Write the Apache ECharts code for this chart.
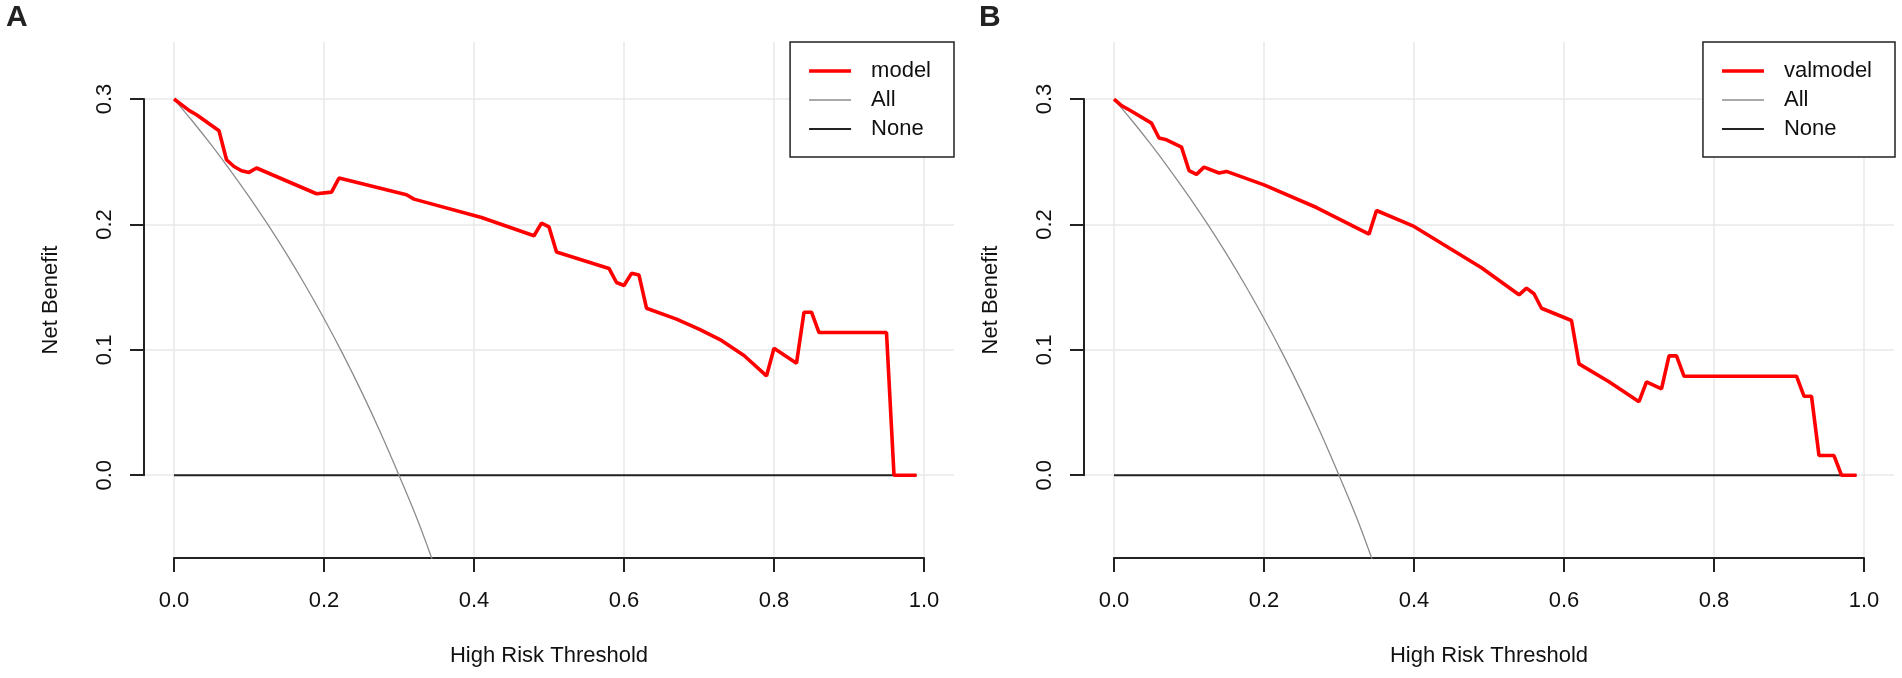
<!DOCTYPE html>
<html>
<head>
    <meta charset="utf-8">
    <title>Decision curves</title>
    <script src="https://cdn.jsdelivr.net/npm/echarts@6.0.0/dist/echarts.min.js"></script>
    <style>
        html, body { margin: 0; padding: 0; background: #fff; }
    </style>
</head>
<body>
    <div id="dca" style="width: 1902px;height:678px;"></div>
    <script type="text/javascript">
        // 数据：阈值与净获益
        var thresholdA = [0.00, 0.02, 0.03, 0.06, 0.07, 0.08, 0.09, 0.10, 0.11, 0.19, 0.21, 0.22, 0.31, 0.32, 0.41, 0.48, 0.49, 0.50, 0.51, 0.58, 0.59, 0.60, 0.61, 0.62, 0.63, 0.67, 0.70, 0.73, 0.76, 0.79, 0.80, 0.83, 0.84, 0.85, 0.86, 0.95, 0.96, 0.99];
        var modelA = [0.300, 0.291, 0.2875, 0.2747, 0.2516, 0.2462, 0.2428, 0.2415, 0.2450, 0.2245, 0.2258, 0.2370, 0.2237, 0.2202, 0.2055, 0.1910, 0.2010, 0.1980, 0.1780, 0.1649, 0.1537, 0.1513, 0.1610, 0.1596, 0.1332, 0.1245, 0.1165, 0.1075, 0.0955, 0.0792, 0.1013, 0.0894, 0.1300, 0.1300, 0.1138, 0.1138, 0.0000, 0.0000];

        var thresholdB = [0.00, 0.01, 0.02, 0.05, 0.06, 0.07, 0.09, 0.10, 0.11, 0.12, 0.14, 0.15, 0.20, 0.27, 0.34, 0.35, 0.40, 0.49, 0.54, 0.55, 0.56, 0.57, 0.61, 0.62, 0.66, 0.70, 0.71, 0.73, 0.74, 0.75, 0.76, 0.91, 0.92, 0.93, 0.94, 0.96, 0.97, 0.99];
        var valmodelB = [0.300, 0.2947, 0.2915, 0.2808, 0.2689, 0.2675, 0.2617, 0.2430, 0.2399, 0.2457, 0.2410, 0.2423, 0.2316, 0.2135, 0.1923, 0.2111, 0.1984, 0.1655, 0.1439, 0.1492, 0.1447, 0.1332, 0.1234, 0.0888, 0.0745, 0.0587, 0.0744, 0.0689, 0.0952, 0.0952, 0.0790, 0.0790, 0.0630, 0.0630, 0.0157, 0.0157, 0.0000, 0.0000];

        // "All" 曲线（两图相同）
        var allX = [0.000, 0.025, 0.050, 0.075, 0.100, 0.125, 0.150, 0.175, 0.200, 0.225, 0.250, 0.275, 0.300, 0.325, 0.350];
        var allY = [0.3000, 0.2821, 0.2632, 0.2432, 0.2222, 0.2000, 0.1765, 0.1515, 0.1250, 0.0968, 0.0667, 0.0345, 0.0000, -0.0361, -0.0769];

        // "None" 直线
        var noneX = [0.00, 0.99];
        var noneY = [0.00, 0.00];

        // 坐标轴刻度
        var xTicks = [0, 0.2, 0.4, 0.6, 0.8, 1.0];
        var yTicks = [0, 0.1, 0.2, 0.3];

        // 布局（像素）
        var FONT = '"Liberation Sans", Arial, Helvetica, sans-serif';
        var PLOT_TOP = 42, PLOT_W = 810, PLOT_H = 516;
        var X_MIN = -0.04, X_MAX = 1.04, Y_MIN = -0.066, Y_MAX = 0.3455;
        var panels = [
            { ox: 0,   title: 'A', titleLeft: 6,   name: 'model',    xs: thresholdA, ys: modelA,    legendRight: 948 },
            { ox: 940, title: 'B', titleLeft: 979, name: 'valmodel', xs: thresholdB, ys: valmodelB, legendRight: 7 }
        ];

        function pairs(xs, ys) {
            var out = [];
            for (var i = 0; i < xs.length; i++) out.push([xs[i], ys[i]]);
            return out;
        }

        var grid = [], xAxis = [], yAxis = [], series = [], legend = [], title = [];
        var axisColor = '#222';
        var hidden = { axisLine: {show: false}, axisTick: {show: false}, axisLabel: {show: false}, splitLine: {show: false} };

        for (var p = 0; p < panels.length; p++) {
            var pn = panels[p];
            var L = 144 + pn.ox;
            var xPix = function (v) { return L + (v - X_MIN) / (X_MAX - X_MIN) * PLOT_W; };
            var yPix = function (v) { return PLOT_TOP + (Y_MAX - v) / (Y_MAX - Y_MIN) * PLOT_H; };
            var g0 = p * 3;

            // 绘图区
            grid.push({ left: L, top: PLOT_TOP, width: PLOT_W, height: PLOT_H, outerBoundsMode: 'none' });
            // x 轴（0..1）
            grid.push({ left: xPix(0), top: PLOT_TOP, width: xPix(1) - xPix(0), height: PLOT_H, outerBoundsMode: 'none' });
            // y 轴（0..0.3）
            grid.push({ left: L, top: yPix(0.3), width: PLOT_W, height: yPix(0) - yPix(0.3), outerBoundsMode: 'none' });

            xAxis.push(Object.assign({
                type: 'value', gridIndex: g0, min: X_MIN, max: X_MAX,
                name: 'High Risk Threshold', nameLocation: 'middle', nameGap: 87,
                nameTextStyle: { fontSize: 22, color: '#111', fontFamily: FONT }
            }, hidden));
            yAxis.push(Object.assign({
                type: 'value', gridIndex: g0, min: Y_MIN, max: Y_MAX,
                name: 'Net Benefit', nameLocation: 'middle', nameGap: 82,
                nameTextStyle: { fontSize: 22, color: '#111', fontFamily: FONT }
            }, hidden));

            xAxis.push({
                type: 'value', gridIndex: g0 + 1, min: xTicks[0], max: xTicks[xTicks.length - 1], interval: 0.2,
                axisLine: { show: true, lineStyle: { color: axisColor, width: 2 } },
                axisTick: { show: true, length: 14, lineStyle: { color: axisColor, width: 2 } },
                axisLabel: { show: true, margin: 32, fontSize: 22, color: '#111', fontFamily: FONT,
                    formatter: function (v) { return v.toFixed(1); } },
                splitLine: { show: true, lineStyle: { color: '#e8e8e8', width: 1.5 } }
            });
            yAxis.push(Object.assign({ type: 'value', gridIndex: g0 + 1, min: 0, max: 1 }, hidden));

            xAxis.push(Object.assign({ type: 'value', gridIndex: g0 + 2, min: 0, max: 1 }, hidden));
            yAxis.push({
                type: 'value', gridIndex: g0 + 2, min: yTicks[0], max: yTicks[yTicks.length - 1], interval: 0.1,
                axisLine: { show: true, lineStyle: { color: axisColor, width: 2 } },
                axisTick: { show: true, length: 14, lineStyle: { color: axisColor, width: 2 } },
                axisLabel: { show: true, margin: 28, rotate: 90, fontSize: 22, color: '#111', fontFamily: FONT,
                    formatter: function (v) { return v.toFixed(1); } },
                splitLine: { show: true, lineStyle: { color: '#e8e8e8', width: 1.5 } }
            });

            series.push({
                name: 'None', type: 'line', xAxisIndex: g0, yAxisIndex: g0, symbol: 'none', z: 3,
                lineStyle: { color: '#222', width: 1.8 }, itemStyle: { color: '#222' },
                data: pairs(noneX, noneY)
            });
            series.push({
                name: 'All', type: 'line', xAxisIndex: g0, yAxisIndex: g0, symbol: 'none', z: 4,
                smooth: 0.4,
                lineStyle: { color: '#8c8c8c', width: 1.3 }, itemStyle: { color: '#8c8c8c' },
                data: pairs(allX, allY)
            });
            series.push({
                name: pn.name, type: 'line', xAxisIndex: g0, yAxisIndex: g0, symbol: 'none', z: 5,
                lineStyle: { color: '#ff0000', width: 3.6 }, itemStyle: { color: '#ff0000' },
                data: pairs(pn.xs, pn.ys)
            });

            legend.push({
                data: [
                    { name: pn.name, icon: 'path://M0,0H42V3.5H0Z' },
                    { name: 'All', icon: 'path://M0,0H42V1.4H0Z' },
                    { name: 'None', icon: 'path://M0,0H42V1.8H0Z' }
                ],
                orient: 'vertical', right: pn.legendRight, top: PLOT_TOP,
                padding: [18, 23, 17, 19], itemGap: 7, itemWidth: 42, itemHeight: 14,
                symbolKeepAspect: true,
                borderColor: '#222', borderWidth: 1.5, borderRadius: 0, backgroundColor: '#fff',
                selectedMode: false,
                textStyle: { fontSize: 22, color: '#111', fontFamily: FONT, padding: [0, 0, 0, 15] }
            });

            title.push({
                text: pn.title, left: pn.titleLeft, top: 3, padding: 0,
                textStyle: { fontSize: 30, fontWeight: 'bold', color: '#222', fontFamily: FONT }
            });
        }

        var chart = echarts.init(document.getElementById('dca'));
        chart.setOption({
            animation: false,
            backgroundColor: '#fff',
            title: title,
            legend: legend,
            grid: grid,
            xAxis: xAxis,
            yAxis: yAxis,
            series: series
        });
    </script>
</body>
</html>
